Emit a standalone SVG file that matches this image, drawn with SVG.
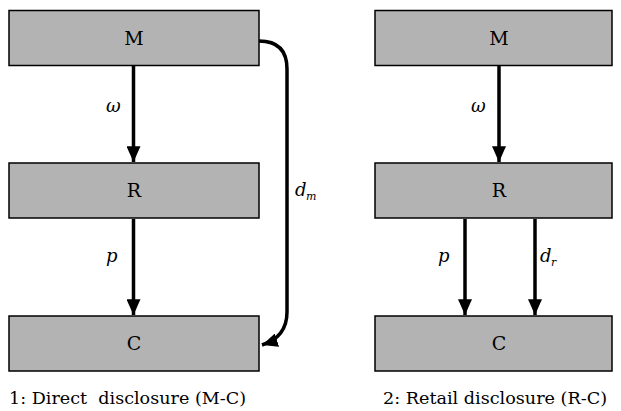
<svg xmlns="http://www.w3.org/2000/svg" width="621" height="411" viewBox="0 0 621 411">
<style>
text{font-family:"DejaVu Serif","Liberation Serif",serif}
.box{fill:#b3b3b3;stroke:#000;stroke-width:1.5}
.lbl{font-size:19px;text-anchor:middle}
.it{font-size:18px;font-style:italic}
.sub{font-size:11px;font-style:italic}
.cap{font-size:17px}
.edge{fill:none;stroke:#000;stroke-width:3.5}
</style>
<defs>
<marker id="ah" markerWidth="4.5" markerHeight="4" refX="4.5" refY="2" orient="auto" markerUnits="strokeWidth" viewBox="0 0 4.5 4">
<path d="M0,0 L4.5,2 L0,4 z" fill="#000"/>
</marker>
</defs>
<g id="M1"><rect class="box" x="9" y="10.5" width="250" height="55"/><text class="lbl" x="134" y="45">M</text></g>
<g id="R1"><rect class="box" x="9" y="163" width="250" height="55"/><text class="lbl" x="134" y="197">R</text></g>
<g id="C1"><rect class="box" x="9" y="316" width="250" height="55"/><text class="lbl" x="134" y="350">C</text></g>
<g id="M2"><rect class="box" x="375" y="10.5" width="237" height="55"/><text class="lbl" x="499" y="45">M</text></g>
<g id="R2"><rect class="box" x="375" y="163" width="237" height="55"/><text class="lbl" x="499" y="197">R</text></g>
<g id="C2"><rect class="box" x="375" y="316" width="237" height="55"/><text class="lbl" x="499" y="350">C</text></g>
<g id="connectors">
<path class="edge" d="M133.5,66 V162" marker-end="url(#ah)"/>
<path class="edge" d="M133.5,219 V315" marker-end="url(#ah)"/>
<path class="edge" d="M259,41 Q287,41 287,69 V312 Q287,337 262,345" marker-end="url(#ah)"/>
<path class="edge" d="M499,66 V162" marker-end="url(#ah)"/>
<path class="edge" d="M465,219 V315" marker-end="url(#ah)"/>
<path class="edge" d="M535,219 V315" marker-end="url(#ah)"/>
</g>
<g id="labels">
<text class="it" x="106" y="112">ω</text>
<text class="it" x="471" y="112">ω</text>
<text class="it" x="106" y="262">p</text>
<text class="it" x="438" y="262">p</text>
<text class="it" x="540" y="262">d</text><text class="sub" x="551" y="266">r</text>
<text class="it" x="295" y="196">d</text><text class="sub" x="306" y="200">m</text>
<text class="cap" x="9" y="404" xml:space="preserve" textLength="237" lengthAdjust="spacingAndGlyphs">1: Direct  disclosure (M-C)</text>
<text class="cap" x="383" y="404" textLength="224" lengthAdjust="spacingAndGlyphs">2: Retail disclosure (R-C)</text>
</g>
</svg>
